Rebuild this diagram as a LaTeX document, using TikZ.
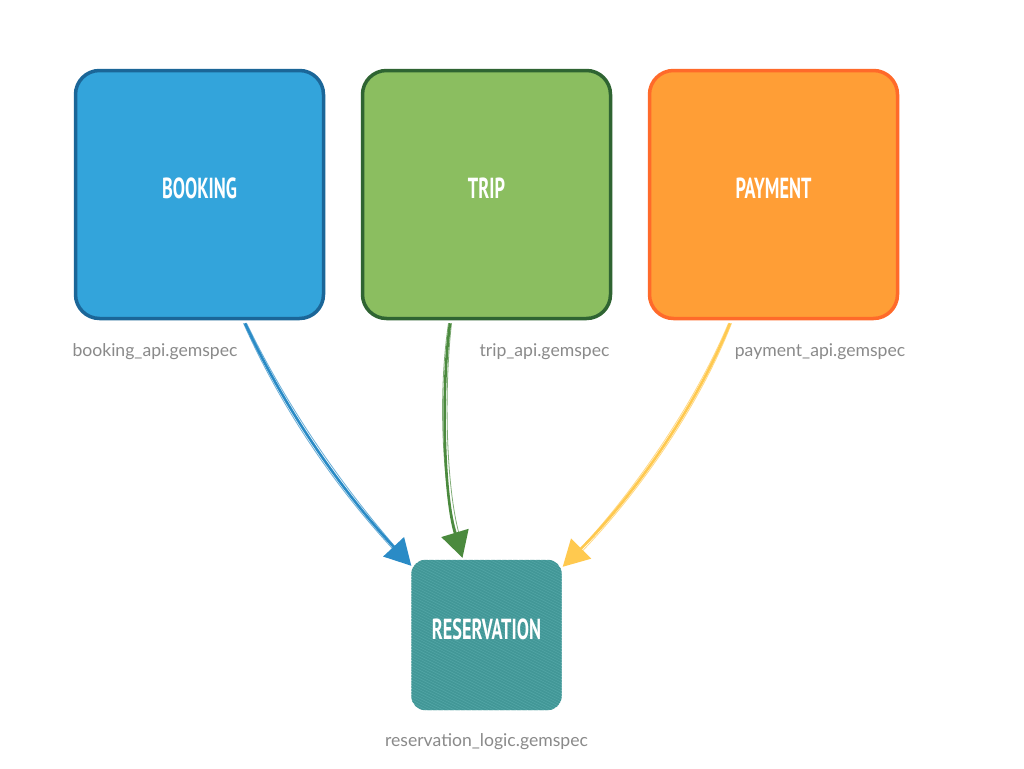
\documentclass[tikz,border=0pt]{standalone}
\usepackage{fontspec}
\setmainfont{Lato}
\newfontfamily\titlefont{PT Sans}
\usetikzlibrary{arrows.meta,calc}
\definecolor{bookfill}{HTML}{33A4DB}
\definecolor{bookline}{HTML}{1B6698}
\definecolor{tripfill}{HTML}{8BBE60}
\definecolor{tripline}{HTML}{2F6432}
\definecolor{payfill}{HTML}{FF9E36}
\definecolor{payline}{HTML}{FF6A2A}
\definecolor{resfill}{HTML}{56A9A9}
\definecolor{resstripe}{HTML}{429797}
\definecolor{arblue}{HTML}{2A8BC6}
\definecolor{argreen}{HTML}{4B8A3E}
\definecolor{aryellow}{HTML}{FFC94F}
\definecolor{labgray}{HTML}{8A8A8A}
\tikzset{
  svcbox/.style={draw, line width=3.5pt, rounded corners=24pt, minimum width=248pt, minimum height=248pt, inner sep=0pt, text=white},
  title/.style={font=\titlefont\bfseries\fontsize{29}{29}\selectfont},
  gemlabel/.style={text=labgray, font=\fontsize{17.6}{19}\selectfont, inner sep=0pt},
  sketch/.style={line width=2.6pt, -{Triangle[length=26pt,width=28pt]}},
  sketchthin/.style={line width=0.8pt, opacity=0.7}
}
\begin{document}
\begin{tikzpicture}[x=1pt,y=-1pt]
\useasboundingbox (0,0) rectangle (1024,768);
\fill[white] (0,0) rectangle (1024,768);
% boxes
\node[svcbox, fill=bookfill, draw=bookline] (booking) at (199.5,194.5) {};
\node[title, text=white] (bookingt) at ($(booking.center)+(0,-6)$) {\scalebox{0.63}[1]{BOOKING}};
\node[svcbox, fill=tripfill, draw=tripline] (trip) at (486.5,194.5) {};
\node[title, text=white] (tript) at ($(trip.center)+(0,-6)$) {\scalebox{0.63}[1]{TRIP}};
\node[svcbox, fill=payfill, draw=payline] (payment) at (773.5,194.5) {};
\node[title, text=white] (paymentt) at ($(payment.center)+(0,-6)$) {\scalebox{0.63}[1]{PAYMENT}};
% reservation
\node[fill=resfill, rounded corners=14pt, minimum width=150pt, minimum height=150pt, inner sep=0pt] (reservation) at (486.5,635) {};
\begin{scope}
\clip[rounded corners=14pt] (reservation.south west) rectangle (reservation.north east);
\foreach \i in {-45,...,45} {
  \draw[resstripe, line width=1.8pt] ($(reservation.center)+(\i*5.6,0)+(-200,-100)$) -- ++(400,200);
}
\end{scope}
\node[title, text=white] (reservationt) at ($(reservation.center)+(0,-6)$) {\scalebox{0.63}[1]{RESERVATION}};
% labels
\node[gemlabel] (lbook) at (155,352) {booking\_api.gemspec};
\node[gemlabel] (ltrip) at (544.5,352) {trip\_api.gemspec};
\node[gemlabel] (lpay) at (820,352) {payment\_api.gemspec};
\node[gemlabel] (lres) at (486.5,742) {reservation\_logic.gemspec};
% connectors
\coordinate (bs) at ($(booking.south)+(45.5,3)$);
\coordinate (ts) at ($(trip.south)+(-36.5,3)$);
\coordinate (ps) at ($(payment.south)+(-43.5,3)$);
\coordinate (be) at ($(reservation.north west)+(0,6)$);
\coordinate (te) at ($(reservation.north)+(-24,-2)$);
\coordinate (pe) at ($(reservation.north east)+(1,7)$);
\draw[sketch, arblue] (bs) .. controls (290,420) and (350,500) .. (be);
\draw[sketchthin, arblue] ($(bs)+(-1.5,0)$) .. controls (287,421) and (348,502) .. ($(be)+(-12,-10)$);
\draw[sketchthin, arblue] ($(bs)+(1.5,0)$) .. controls (293,419) and (352,498) .. ($(be)+(-10,-12)$);
\draw[sketch, argreen] (ts) .. controls (440,400) and (445,500) .. (te);
\draw[sketchthin, argreen] ($(ts)+(-1.5,0)$) .. controls (437,400) and (443,500) .. ($(te)+(-3,-16)$);
\draw[sketchthin, argreen] ($(ts)+(1.5,0)$) .. controls (443,400) and (447,500) .. ($(te)+(-1,-16)$);
\draw[sketch, aryellow] (ps) .. controls (695,410) and (630,500) .. (pe);
\draw[sketchthin, aryellow] ($(ps)+(-1.5,0)$) .. controls (692,410) and (627,500) .. ($(pe)+(12,-12)$);
\draw[sketchthin, aryellow] ($(ps)+(1.5,0)$) .. controls (698,410) and (633,500) .. ($(pe)+(14,-10)$);
\end{tikzpicture}
\end{document}
